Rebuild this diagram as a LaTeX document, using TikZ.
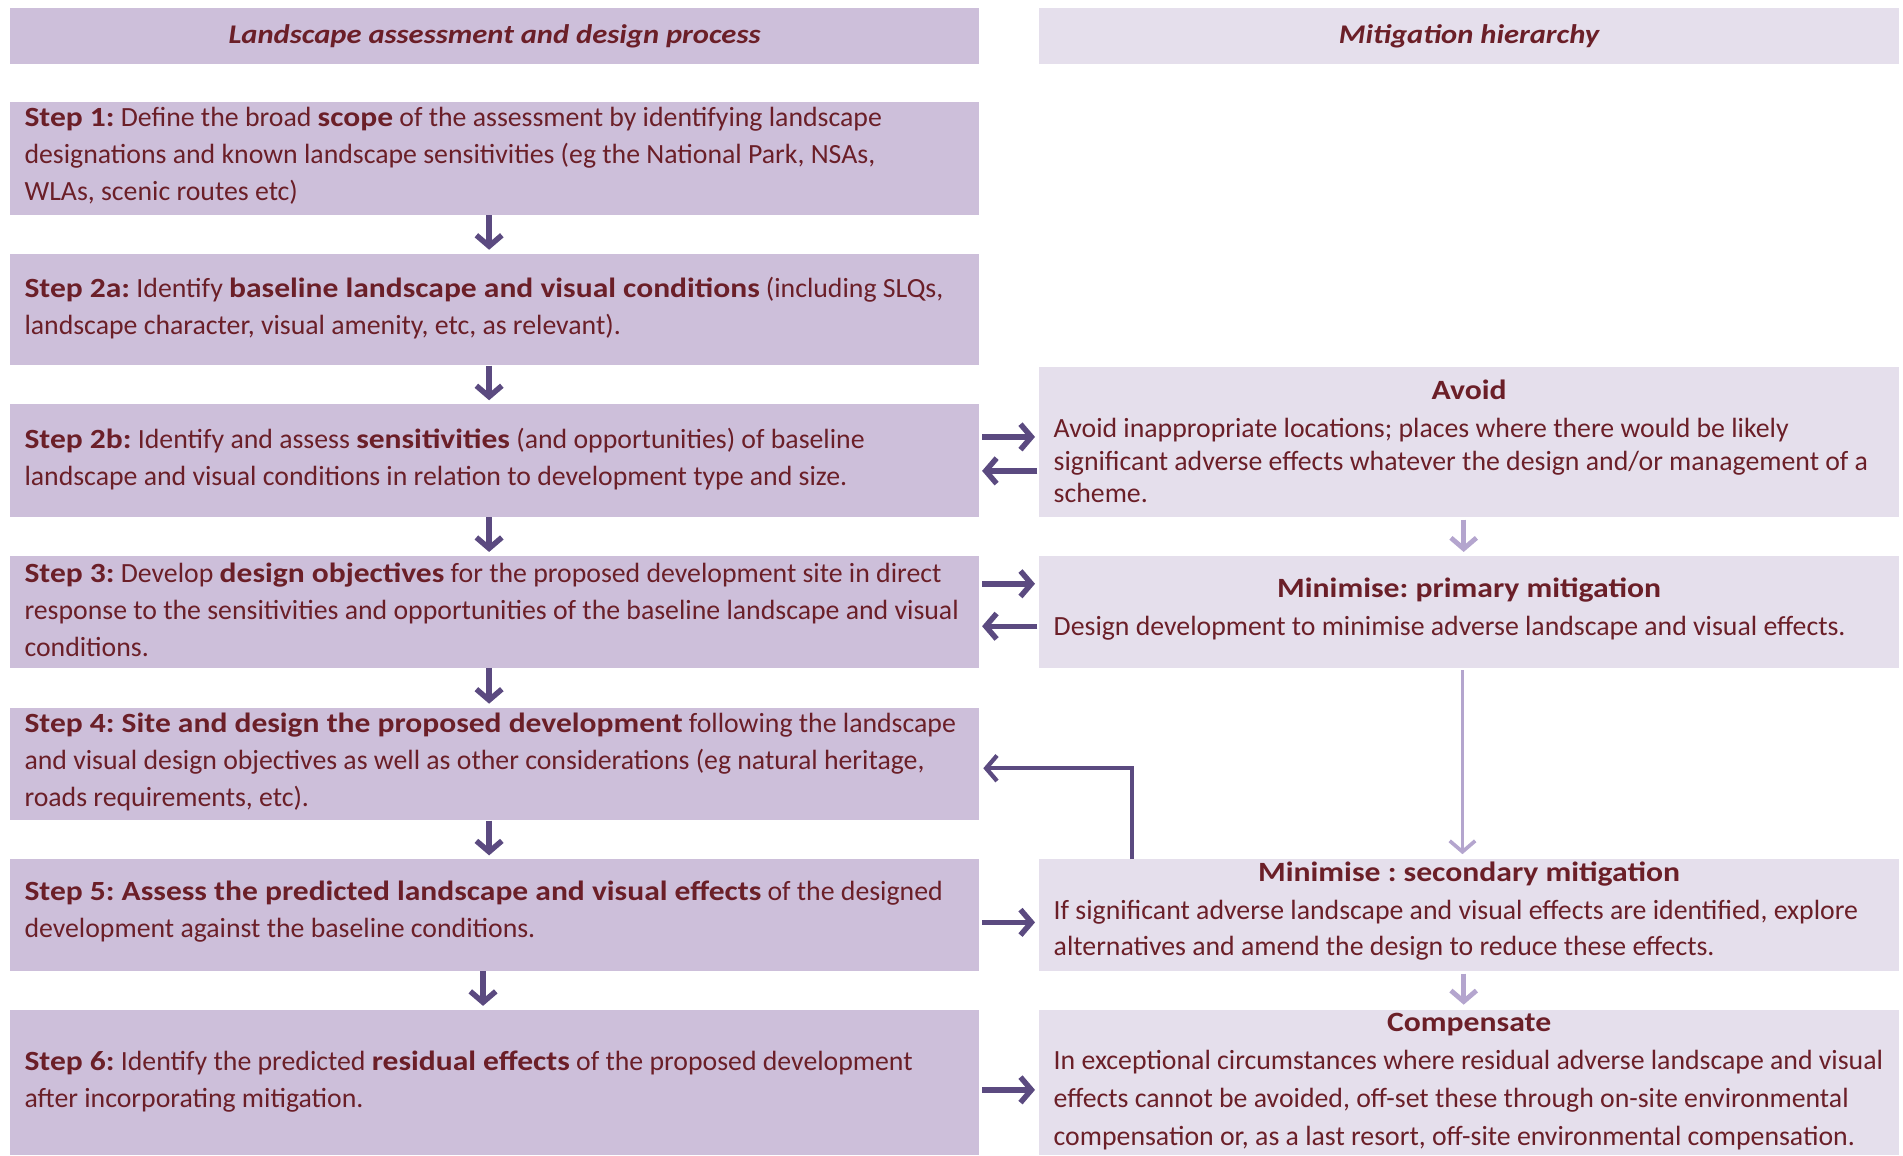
\documentclass[tikz,border=0pt]{standalone}
\usepackage{fontspec}
\setmainfont{Carlito}[BoldFeatures={FakeStretch=1.135},BoldItalicFeatures={FakeStretch=1.135}]
\usetikzlibrary{arrows.meta}
\definecolor{txt}{HTML}{6B1F28}
\definecolor{lbox}{HTML}{CDBFDA}
\definecolor{rbox}{HTML}{E5DFEC}
\definecolor{darr}{HTML}{5B4A80}
\definecolor{larr}{HTML}{B4A5CE}
\frenchspacing
\begin{document}
\begin{tikzpicture}[x=1pt,y=-1pt,
  lbox/.style={fill=lbox, draw=none, inner sep=0pt, minimum width=799pt},
  rbox/.style={fill=rbox, draw=none, inner sep=0pt, minimum width=709pt},
  ltext/.style={text=txt, inner sep=0pt, anchor=west, align=left,
    font=\fontsize{22.9}{30.5}\selectfont},
  ttl/.style={text=txt, inner sep=0pt, font=\fontsize{23}{26}\selectfont\bfseries},
  hdr/.style={draw=none, text=txt, inner sep=0pt, minimum height=46pt,
    font=\fontsize{22.2}{26}\selectfont\bfseries\itshape},
  darrow/.style={draw=darr, line width=4.5pt, -{Straight Barb[length=9pt,width=21pt]}},
  larrow/.style={draw=larr, line width=4pt, -{Straight Barb[length=9pt,width=21pt]}}]
\useasboundingbox (0,0) rectangle (1568,952);
% headers
\node[hdr, fill=lbox, minimum width=799pt] (h1) at (407.5,30) {Landscape assessment and design process};
\node[hdr, fill=rbox, minimum width=709pt] (h2) at (1210.5,30) {Mitigation hierarchy};
% left step boxes
\node[lbox, minimum height=93pt] (s1) at (407.5,130.5) {};
\node[lbox, minimum height=92pt] (s2a) at (407.5,255) {};
\node[lbox, minimum height=93pt] (s2b) at (407.5,379.5) {};
\node[lbox, minimum height=92pt] (s3) at (407.5,504) {};
\node[lbox, minimum height=93pt] (s4) at (407.5,629.5) {};
\node[lbox, minimum height=92pt] (s5) at (407.5,754) {};
\node[lbox, minimum height=120pt] (s6) at (407.5,892) {};
% left step texts
\node[ltext] (t1) at (20,128.5) {\textbf{Step 1:} Define the broad \textbf{scope} of the assessment by identifying landscape\\designations and known landscape sensitivities (eg the National Park, NSAs,\\WLAs, scenic routes etc)};
\node[ltext] (t2a) at (20,254) {\textbf{Step 2a:} Identify \textbf{baseline landscape and visual conditions} (including SLQs,\\landscape character, visual amenity, etc, as relevant).};
\node[ltext] (t2b) at (20,378) {\textbf{Step 2b:} Identify and assess \textbf{sensitivities} (and opportunities) of baseline\\landscape and visual conditions in relation to development type and size.};
\node[ltext] (t3) at (20,502.5) {\textbf{Step 3:} Develop \textbf{design objectives} for the proposed development site in direct\\response to the sensitivities and opportunities of the baseline landscape and visual\\conditions.};
\node[ltext] (t4) at (20,627.5) {\textbf{Step 4: Site and design the proposed development} following the landscape\\and visual design objectives as well as other considerations (eg natural heritage,\\roads requirements, etc).};
\node[ltext] (t5) at (20,751.5) {\textbf{Step 5: Assess the predicted landscape and visual effects} of the designed\\development against the baseline conditions.};
\node[ltext] (t6) at (20,891) {\textbf{Step 6:} Identify the predicted \textbf{residual effects} of the proposed development\\after incorporating mitigation.};
% right boxes
\node[rbox, minimum height=124pt] (av) at (1210.5,364) {};
\node[rbox, minimum height=92pt] (mp) at (1210.5,504) {};
\node[rbox, minimum height=92pt] (ms) at (1210.5,754) {};
\node[rbox, minimum height=120pt] (cp) at (1210.5,892) {};
% right texts
\node[ttl] (avt) at (1210.5,321) {Avoid};
\node[ltext, font=\fontsize{22.9}{26.5}\selectfont] (avb) at (868,379.5) {Avoid inappropriate locations; places where there would be likely\\significant adverse effects whatever the design and/or management of a\\scheme.};
\node[ttl] (mpt) at (1210.5,486.5) {Minimise: primary mitigation};
\node[ltext] (mpb) at (868,517.5) {Design development to minimise adverse landscape and visual effects.};
\node[ttl] (mst) at (1210.5,720.5) {Minimise : secondary mitigation};
\node[ltext, font=\fontsize{22.9}{30}\selectfont] (msb) at (868,766.5) {If significant adverse landscape and visual effects are identified, explore\\alternatives and amend the design to reduce these effects.};
\node[ttl] (cpt) at (1210.5,844.5) {Compensate};
\node[ltext, font=\fontsize{22.9}{31}\selectfont] (cpb) at (868,906.5) {In exceptional circumstances where residual adverse landscape and visual\\effects cannot be avoided, off-set these through on-site environmental\\compensation or, as a last resort, off-site environmental compensation.};
% vertical arrows, left column
\draw[darrow, shorten >=3pt] (s1.south -| 403,0) -- (s2a.north -| 403,0);
\draw[darrow, shorten >=3pt] (s2a.south -| 403,0) -- (s2b.north -| 403,0);
\draw[darrow, shorten >=3pt] (s2b.south -| 403,0) -- (s3.north -| 403,0);
\draw[darrow, shorten >=3pt] (s3.south -| 403,0) -- (s4.north -| 403,0);
\draw[darrow, shorten >=3pt] (s4.south -| 403,0) -- (s5.north -| 403,0);
\draw[darrow, shorten >=3pt] (s5.south -| 398,0) -- (s6.north -| 398,0);
% horizontal arrows
\draw[darrow, shorten <=2pt, shorten >=3pt] (s2b.east |- 0,360) -- (av.west |- 0,360);
\draw[darrow, shorten <=1pt, shorten >=2pt] (av.west |- 0,388) -- (s2b.east |- 0,388);
\draw[darrow, shorten <=2pt, shorten >=3pt] (s3.east |- 0,481) -- (mp.west |- 0,481);
\draw[darrow, shorten <=1pt, shorten >=2pt] (mp.west |- 0,516) -- (s3.east |- 0,516);
\draw[darrow, shorten <=2pt, shorten >=3pt] (s5.east |- 0,760) -- (ms.west |- 0,760);
\draw[darrow, shorten <=2pt, shorten >=3pt] (s6.east |- 0,898) -- (cp.west |- 0,898);
% feedback arrow
\draw[darrow, line width=3.5pt, shorten >=3pt] (ms.north -| 933,0) |- (s4.east |- 0,633);
% light arrows, right column
\draw[larrow, shorten <=2pt, shorten >=3pt] (av.south -| 1206,0) -- (mp.north -| 1206,0);
\draw[larrow, line width=3pt, shorten <=2pt, shorten >=4pt] (mp.south -| 1205,0) -- (ms.north -| 1205,0);
\draw[larrow, shorten <=2pt, shorten >=4pt] (ms.south -| 1206,0) -- (cp.north -| 1206,0);
\end{tikzpicture}
\end{document}
